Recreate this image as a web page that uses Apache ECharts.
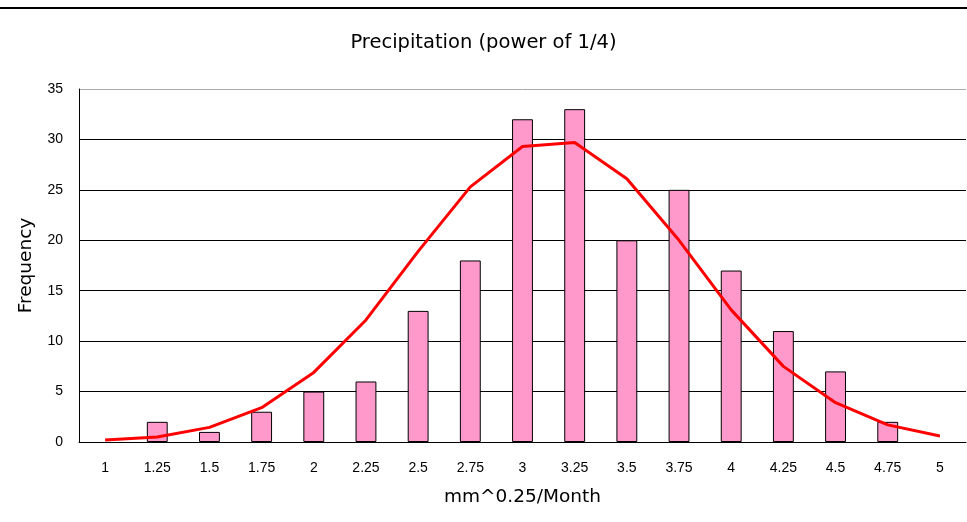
<!DOCTYPE html>
<html><head><meta charset="utf-8">
<script src="https://cdn.jsdelivr.net/npm/echarts@6/dist/echarts.min.js"></script>
<style>html,body{margin:0;padding:0;background:#fff}#c{width:967px;height:522px}</style>
</head><body><div id="c"></div>
<script>
const categories = ['1','1.25','1.5','1.75','2','2.25','2.5','2.75','3','3.25','3.5','3.75','4','4.25','4.5','4.75','5'];
const frequency = [0,2,1,3,5,6,13,18,32,33,20,25,17,11,7,2,0];
const normalCurve = [0.2,0.5,1.45,3.4,6.9,12.1,18.9,25.3,29.3,29.7,26.1,20.0,13.1,7.5,3.9,1.7,0.6];
const yTicks = [0,5,10,15,20,25,30,35];

const font = '"DejaVu Sans", sans-serif';
const tickFont = '"Liberation Sans", Arial, sans-serif';
const barData = frequency.map(v => v === 0 ? {value: v, itemStyle: {borderWidth: 0, opacity: 0}} : v);
const chart = echarts.init(document.getElementById('c'));
chart.setOption({
  animation: false,
  backgroundColor: '#fff',
  textStyle: {fontFamily: font},
  title: {text: 'Precipitation (power of 1/4)', left: 'center', top: 28,
    textStyle: {fontFamily: font, fontSize: 19.5, fontWeight: 'normal', color: '#000'}},
  graphic: [{type: 'line', shape: {x1: 0, y1: 8, x2: 967, y2: 8}, style: {stroke: '#000', lineWidth: 2}}],
  grid: {left: 79, right: 1, top: 89, bottom: 80},
  xAxis: {
    type: 'category', data: categories, boundaryGap: true,
    name: 'mm^0.25/Month', nameLocation: 'middle', nameGap: 46,
    nameTextStyle: {fontFamily: font, fontSize: 18.5, color: '#000'},
    axisLine: {lineStyle: {color: '#000', width: 1}},
    axisTick: {inside: true, length: 5, lineStyle: {color: '#000'}},
    axisLabel: {fontFamily: tickFont, fontSize: 14, color: '#000', margin: 19, interval: 0}
  },
  yAxis: {
    type: 'value', min: yTicks[0], max: yTicks[yTicks.length-1], interval: 5,
    name: 'Frequency', nameLocation: 'middle', nameGap: 43, nameRotate: 90,
    nameTextStyle: {fontFamily: font, fontSize: 18.5, color: '#000'},
    axisLine: {show: true, lineStyle: {color: '#000'}},
    axisTick: {show: false},
    axisLabel: {fontFamily: tickFont, fontSize: 14, color: '#000', margin: 16},
    splitLine: {show: true, lineStyle: {color: ['#000','#000','#000','#000','#000','#000','#000','#aaa'], width: 1}}
  },
  series: [
    {type: 'bar', data: barData, barWidth: '40%',
      itemStyle: {color: '#FF99CC', borderColor: '#000', borderWidth: 1}},
    {type: 'line', data: normalCurve, symbol: 'none', smooth: false,
      lineStyle: {color: '#FF0000', width: 3}, z: 5}
  ]
});
</script></body></html>
